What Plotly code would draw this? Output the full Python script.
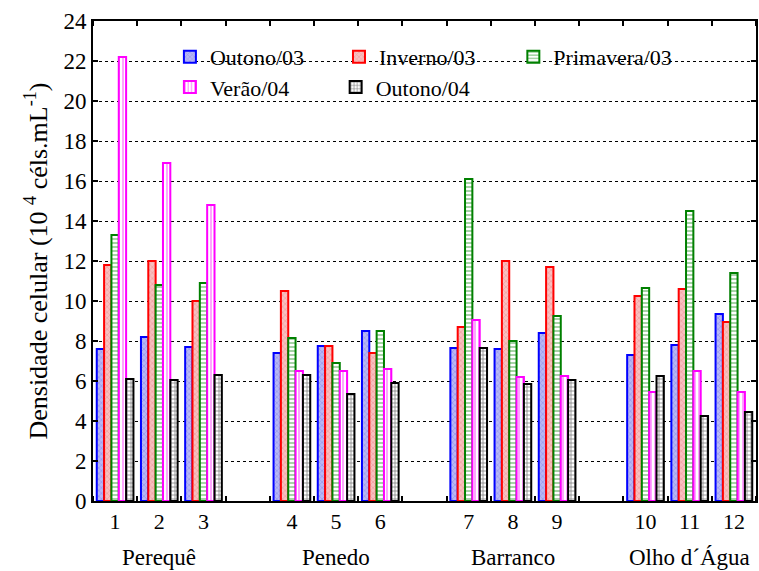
import plotly.graph_objects as go

sites = ["1", "2", "3", "4", "5", "6", "7", "8", "9", "10", "11", "12"]
groups = ["Perequê", "Penedo", "Barranco", "Olho d´Água"]
site_group = [0, 0, 0, 1, 1, 1, 2, 2, 2, 3, 3, 3]

outono03 = [7.6, 8.2, 7.7, 7.4, 7.75, 8.5, 7.65, 7.6, 8.4, 7.3, 7.8, 9.35]
inverno03 = [11.8, 12.0, 10.0, 10.5, 7.75, 7.4, 8.7, 12.0, 11.7, 10.25, 10.6, 8.95]
primavera03 = [13.3, 10.8, 10.9, 8.15, 6.9, 8.5, 16.1, 8.0, 9.25, 10.65, 14.5, 11.4]
verao04 = [22.2, 16.9, 14.8, 6.5, 6.5, 6.6, 9.05, 6.2, 6.25, 5.45, 6.5, 5.45]
outono04 = [6.1, 6.05, 6.3, 6.3, 5.35, 5.9, 7.65, 5.85, 6.05, 6.25, 4.25, 4.45]

series = [
    ("Outono/03", outono03, "#0000ff", "x", "#b8b8f4", "rgba(110,110,230,0.9)"),
    ("Inverno/03", inverno03, "#ff0000", "x", "#f8c0c0", "rgba(230,120,120,0.9)"),
    ("Primavera/03", primavera03, "#008000", "-", "white", "#008000"),
    ("Verão/04", verao04, "#ff00ff", "|", "white", "#ff00ff"),
    ("Outono/04", outono04, "#000000", "+", "white", "#000000"),
]

# legend item placement (paper coords of each entry)
legend_pos = [(0.116, 0.925), (0.371, 0.925), (0.634, 0.925),
              (0.116, 0.862), (0.366, 0.862)]

# slot position: site index plus one empty slot between location groups
xpos = [i + g for i, g in enumerate(site_group)]

FONT = "Liberation Serif"

fig = go.Figure()
legend_layout = {}
for k, (name, vals, col, shp, bg, fg) in enumerate(series):
    lname = "legend" if k == 0 else f"legend{k + 1}"
    fig.add_trace(go.Bar(
        x=xpos, y=vals, name=name, legend=lname,
        marker=dict(color=bg, line=dict(color=col, width=2),
                    pattern=dict(shape=shp, fgcolor=fg, bgcolor=bg,
                                 size=4, solidity=0.35, fillmode="overlay")),
    ))
    lx, ly = legend_pos[k]
    legend_layout[lname] = dict(
        x=lx, y=ly, xanchor="left", yanchor="middle",
        bgcolor="rgba(0,0,0,0)", borderwidth=0,
        font=dict(family=FONT, size=22, color="black"),
    )

group_centers = []
for g in range(len(groups)):
    xs = [x for x, sg in zip(xpos, site_group) if sg == g]
    group_centers.append(sum(xs) / len(xs))

annotations = [
    dict(x=c, y=0, xref="x", yref="paper", yshift=-56, yanchor="middle", text=t,
         showarrow=False, font=dict(family=FONT, size=23, color="black"))
    for c, t in zip(group_centers, groups)
]

fig.update_layout(
    width=759, height=571,
    margin=dict(l=93, r=1, t=21, b=70),
    paper_bgcolor="white", plot_bgcolor="white",
    barmode="group", bargap=0.17, bargroupgap=0,
    font=dict(family=FONT, size=22, color="black"),
    annotations=annotations,
    showlegend=True,
    **legend_layout,
)

fig.update_xaxes(
    range=[-0.5, 14.5], tickmode="array", tickvals=xpos, ticktext=sites,
    ticks="", showgrid=False, zeroline=False,
    showline=True, linecolor="black", linewidth=2, mirror="ticks",
    tickfont=dict(family=FONT, size=22, color="black"),
    minor=dict(tick0=0.5, dtick=1, ticks="inside", ticklen=5, tickwidth=2,
               tickcolor="black", showgrid=False),
)
fig.update_yaxes(
    range=[0, 24], tickmode="linear", tick0=0, dtick=2,
    ticks="inside", ticklen=5, tickwidth=2, tickcolor="black",
    showline=True, linecolor="black", linewidth=2, mirror="ticks",
    showgrid=True, gridcolor="black", gridwidth=1, griddash="dot",
    zeroline=False,
    tickfont=dict(family=FONT, size=23, color="black"),
    title=dict(text="Densidade celular (10 <sup>4</sup> céls.mL<sup>-1</sup>)",
               font=dict(family=FONT, size=26, color="black"), standoff=8),
)

fig.write_html("out.html")
